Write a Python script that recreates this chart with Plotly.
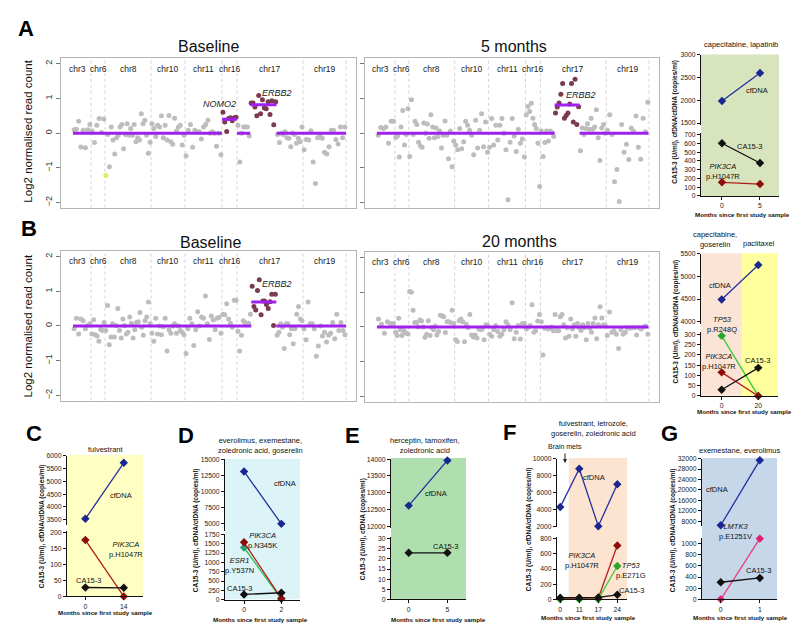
import plotly.graph_objects as go

# ====================== DATA ======================
CHROMS = ["chr3", "chr6", "chr8", "chr10", "chr11", "chr16", "chr17", "chr19"]
CHR_EDGES = [0, 18, 32, 78, 112, 149, 164, 230, 273]   # genome bin index

A_BASE = {
    "chr3": [0.10, 0.11, 0.34, -0.40, 0.08, -0.42, 0.10, 0.25],
    "chr6": [0.06, -0.27, 0.23, 0.42, 0.02, 0.41],
    "chr8": [-1.22, -0.04, -0.97, 0.18, -0.20, -0.60, -0.13, -0.06, 0.18, 0.25, -0.45, -0.04, 0.27,
             -0.06, 0.13, -0.06, 0.25, -0.25, -0.13, -0.20, 0.56, 0.27, 0.37, -0.06, -0.58, -0.26],
    "chr10": [0.27, 0.13, -0.10, 0.23, 0.18, 0.50, -0.13, 0.23, -0.20, 0.51, -0.25, -0.32, 0.43, 0.06,
              0.18, 0.23, -0.34, -0.06],
    "chr11": [-0.65, 0.08, 0.25, -0.41, 0.08, 0.04, 0.04, -0.17, 0.18, 0.25, 0.37, 0.00, 0.04, 0.00,
              -0.38, 0.00, -0.62],
    "chr16": [0.60, 0.32, 0.05, 0.42, 0.44, 0.36, 0.44, 0.46],
    "chr17": [0.23, -0.83, 0.00, 0.18, 0.18, 0.18, -0.08,
              0.87, 0.87, 0.75, 0.50, 1.08, 0.56, 0.96, 0.72, 0.70, 0.90, 0.54, 0.93, 0.24, 0.90,
              -0.04, -0.27, 0.00, -0.04, 0.04, -0.13, -0.15, -0.39, 0.00, -0.04, -0.29, -0.15, -0.25, 0.18],
    "chr19": [-0.48, -0.18, -0.20, 0.07, -0.83, -1.45, -0.13, -0.08, -0.15, -0.55, -0.60, -0.39, 0.08,
              0.08, -0.18, -0.31, 0.18, -0.13, 0.18],
}
A_BASE_SEGS = [(0, 149, 0.0), (149, 164, 0.40), (164, 177.2, 0.0), (177.2, 203.6, 0.82), (203.6, 273, 0.0)]
A_BASE_LOSS = ("chr8", 0)

A_5MO = {
    "chr3": [-0.06, 0.16, 0.13, 0.18, -0.29, 0.34, 0.34],
    "chr6": [-0.12, -0.08, -0.69, 0.18, 0.65, -0.34, -0.04, 0.70],
    "chr8": [-0.67, 0.96, -0.04, 0.34, 0.25, -0.26, -0.36, -0.41, 0.29, 0.00, 0.26, -0.15, 0.53, 0.18,
             -0.13, 0.15, -0.10, 0.06, -0.43, -0.06, 0.35, -0.06, -0.74, 0.06, -0.97, -0.23],
    "chr10": [-0.34, -0.48, 0.13, -0.45, -0.25, 0.34, 0.23, 0.08, -0.06, -0.62, 0.37, -0.43, 0.08, 0.56,
              -0.39, 0.32, -0.55],
    "chr11": [-0.41, 0.42, -0.34, 0.23, -0.20, 0.23, 0.42, 0.00, -0.48, -1.92, -0.26, 0.42, -0.08, -0.53,
              0.11, -0.29, -0.17, -0.69],
    "chr16": [0.53, 0.77, 0.62, 0.86, 0.43, 0.25, 0.13, -0.29, -1.54],
    "chr17": [0.06, -0.67, -0.27, 0.06, -0.23, 0.06, 0.02, -0.10,
              0.58, 0.75, 0.87, 1.12, 1.43, 0.43, 0.51, 0.58, 0.84, 1.43, 0.32, 1.55, 0.25, 0.76,
              -0.51, 0.15, -0.04, 0.13, 0.27, 0.11, 0.43, 0.11, 0.18, 0.67, -0.13, -0.79, 0.15, 0.25, 0.00],
    "chr19": [0.08, 0.53, -0.04, -1.40, -1.05, -1.97, 0.25, -0.55, -0.32, -0.76, 0.15, 0.06, 0.49, -0.41,
              -0.75, 0.43, 0.04, 0.89],
}
A_5MO_SEGS = [(0, 178.3, 0.0), (178.3, 203.3, 0.81), (203.3, 272.5, 0.0)]

B_BASE = {
    "chr3": [-0.08, 0.22, -0.23, 0.20, 0.15, -0.08, 0.01, 0.06],
    "chr6": [-0.23, 0.18, -0.25, -0.29, -0.44, -0.10, -0.13, 0.10],
    "chr8": [-0.13, 0.59, -0.54, -0.32, 0.06, -0.32, 0.01, 0.50, -0.13, -0.35, 0.20, 0.01, -0.23, -0.18,
             0.26, 0.08, -0.35, -0.11, 0.10, 0.12, 0.39, -0.04, -0.27, 0.15, 0.26, 0.69, 0.06],
    "chr10": [-0.21, -0.44, 0.22, -0.23, 0.00, -0.25, -0.02, 0.22, -0.72, -0.11, -0.21, 0.00, 0.06, -0.21,
              0.00, -0.13, -0.18, -0.25],
    "chr11": [-0.79, -0.08, 0.22, 0.06, -0.56, -0.11, 0.41, 0.00, 0.26, 0.22, 0.86, 0.06, -0.39, 0.29,
              0.17, -0.11, 0.22, 0.25, -0.21],
    "chr16": [0.34, 0.32, 0.64, 0.20, 0.08, -0.04, 0.74, 0.74],
    "chr17": [-0.15, -0.72, -0.27, 0.15, 0.10, 0.06, 0.08, 0.34,
              1.14, 0.56, 0.46, 1.02, 1.33, 0.32, 0.72, 0.72, 0.62, 0.50, 0.70, 0.91, 0.01, 0.91,
              -0.27, -0.18, 0.06, -0.04, -0.65, 0.06, 0.06, -0.25, -0.08, -0.51, -0.08, 0.34, 0.56, 0.20, 0.15],
    "chr19": [-0.08, -0.40, 0.69, 0.06, 0.06, -0.08, -0.87, -0.58, 0.00, -0.29, -0.18, -0.46, -0.27, -0.21,
              0.10, -0.37, 0.34, -0.13, 0.10, -0.13, -0.25],
}
B_BASE_SEGS = [(0, 178.3, 0.0), (178.3, 203.3, 0.69), (203.3, 273, 0.0)]

B_20MO = {
    "chr3": [0.23, 0.08, -0.18, 0.15, 0.10, 0.10],
    "chr6": [-0.15, -0.25, 0.25, -0.08, -0.25, -0.10, -0.15, -0.18, -0.20],
    "chr8": [1.02, 1.00, 0.48, 0.13, 0.13, 0.00, 0.20, 0.17, 0.00, -0.30, -0.21, 0.18, -0.25, -0.02,
             -0.08, 0.03, -0.23, -0.13, 0.34, 0.32, 0.29, -0.16, 0.15, 0.15, 0.13, 0.48, 0.10],
    "chr10": [-0.37, -0.42, 0.18, 0.23, 0.15, -0.43, 0.08, -0.02, 0.36, -0.23, -0.29, -0.23, -0.32, -0.06,
              -0.08, -0.06, -0.37, 0.06, 0.04],
    "chr11": [-0.21, -0.27, -0.08, 0.04, -0.13, -0.27, -0.21, -0.08, 0.15, 0.06, -0.08, 0.70, -0.34, -0.15,
              0.04, -0.35, 0.10, 0.10],
    "chr16": [-0.06, -0.01, 0.04, 0.64, -0.15, -0.11, 0.17, 0.36],
    "chr17": [0.15, -0.81, -0.04, -0.02, -0.06, -0.04, 0.00, -0.11, 0.36, -0.11, -0.11, 0.29, 0.36, 0.06,
              -0.32, -0.02, -0.27, 0.23, -0.06, 0.06, -0.27, 0.10, -0.02, -0.10, 0.06, -0.02, -0.37, 0.10,
              -0.04, -0.15, 0.10, 0.26, -0.34, 0.06, 0.58, 0.26, 0.06, 0.04],
    "chr19": [-0.25, 0.43, -0.15, -0.11, -0.21, -0.62, -0.08, -0.21, -0.15, -0.02, -0.04, -0.02, -0.02,
              -0.23, -0.02, -0.06, 0.00, 0.03, -0.21],
}
B_20MO_SEGS = [(0, 272.5, 0.0)]

LOG2_TICKS = [-2, -1, 0, 1, 2]
LOG2_TICKTEXT = ["\u22122", "\u22121", "0", "1", "2"]

# longitudinal marker panels
A_MONTHS = [0, 5]
A_CFDNA = [1985, 2600]
A_CA153 = [602, 376]
A_PIK3CA = [155, 135]
A_TOP_TICKS = [1500, 2000, 2500, 3000]
A_BOT_TICKS = [0, 100, 200, 300, 400, 500, 600, 700]

B_MONTHS = [0, 20]
B_CFDNA = [4490, 5250]
B_TP53 = [293, 0]
B_PIK3CA = [115, 0]
B_CA153 = [30, 137]
B_SWITCH = 11   # treatment change (months)
B_TOP_TICKS = [4000, 4500, 5000, 5500]
B_BOT_TICKS = [0, 50, 100, 150, 200, 250, 300]

C_MONTHS = [0, 14]
C_CFDNA = [3530, 5730]
C_PIK3CA = [177, 0]
C_CA153 = [28, 27]
C_TOP_TICKS = [3500, 4000, 4500, 5000, 5500, 6000]
C_BOT_TICKS = [0, 50, 100, 150, 200]

D_MONTHS = [0, 2]
D_CFDNA = [13100, 4950]
D_PIK3CA = [1540, 30]
D_ESR1 = [1400, 15]
D_CA153 = [140, 185]
D_TOP_TICKS = [5000, 7500, 10000, 12500, 15000]
D_BOT_TICKS = [0, 250, 500, 750, 1000, 1250, 1500, 1750]

E_MONTHS = [0, 5]
E_CFDNA = [12615, 13965]
E_CA153 = [23, 23]
E_TOP_TICKS = [12000, 12500, 13000, 13500, 14000]
E_BOT_TICKS = [0, 5, 10, 15, 20, 25, 30]

F_MONTHS = ["0", "11", "17", "24"]
F_CFDNA = [4260, 8800, 2000, 6960]
F_PIK3CA = [8, 8, 15, 710]
F_TP53 = [0, 0, 0, 440]
F_CA153 = [22, 22, 25, 60]
F_TOP_TICKS = [2000, 4000, 6000, 8000, 10000]
F_BOT_TICKS = [0, 200, 400, 600, 800]

G_MONTHS = [0, 1]
G_CFDNA = [6450, 31400]
G_LMTK3 = [0, 1090]
G_CA153 = [307, 385]
G_TOP_TICKS = [8000, 12000, 16000, 20000, 24000, 28000, 32000]
G_BOT_TICKS = [0, 200, 400, 600, 800, 1000]

# ====================== STYLE / HELPERS ======================
W, H = 800, 626
FONT = "Liberation Sans, Arial, Helvetica, sans-serif"
GREY = "#bdbdbd"
MAROON = "#7a3b4c"
LOSS_COL = "#cdf55c"
PURPLE = "#a020f0"
CF = ("#23309f", "#1b2790")
CA = ("#111111", "#111111")
PIK = ("#b01c1c", "#8e0b0b")
TP = ("#37cc37", "#2aa82a")
ESR = ("#2ec24a", "#2a9d7e")
LMT = ("#ea3c82", "#e0206e")
TXT = "#111111"


def px(x):
    return x / W


def py(y):
    return 1 - y / H


fig = go.Figure()
annotations = []
shapes = []
layout_axes = {}


def ann(text, x, y, size=7.5, bold=False, angle=0, color=TXT, xanchor="center", **kw):
    if bold:
        text = "<b>" + text + "</b>"
    d = dict(text=text, x=px(x), y=py(y), xref="paper", yref="paper", showarrow=False,
             font=dict(family=FONT, size=size, color=color), textangle=angle,
             xanchor=xanchor, yanchor="middle")
    d.update(kw)
    annotations.append(d)


def seg_color(x, segs):
    for s0, s1, v in segs:
        if s0 <= x <= s1 and v > 0.2:
            return MAROON
    return GREY


def cn_panel(i, values, segs, box, show_labels, loss=None, genes=()):
    x0, x1, y0, y1 = box
    xs, ys, cols = [], [], []
    for ci, chrom in enumerate(CHROMS):
        vals = values[chrom]
        a, b = CHR_EDGES[ci], CHR_EDGES[ci + 1]
        step = (b - a) / len(vals)
        for j, v in enumerate(vals):
            x = a + (j + 0.5) * step
            xs.append(x)
            ys.append(v)
            c = seg_color(x, segs)
            if loss is not None and loss == (chrom, j):
                c = LOSS_COL
            cols.append(c)
    xa, ya = "x%d" % i, "y%d" % i
    bx, by = [], []
    for e in CHR_EDGES[1:]:
        bx += [e, e, None]
        by += [-2.15, 2.15, None]
    fig.add_trace(go.Scatter(x=bx, y=by, mode="lines", xaxis=xa, yaxis=ya, hoverinfo="skip",
                             line=dict(color="#d2d2d2", width=1, dash="dot"), showlegend=False))
    fig.add_trace(go.Scatter(x=xs, y=ys, mode="markers", xaxis=xa, yaxis=ya, showlegend=False,
                             marker=dict(size=5, color=cols, line=dict(width=0))))
    sx, sy = [], []
    for s0, s1, v in segs:
        sx += [s0, s1, None]
        sy += [v, v, None]
    fig.add_trace(go.Scatter(x=sx, y=sy, mode="lines", xaxis=xa, yaxis=ya, showlegend=False,
                             line=dict(color=PURPLE, width=3)))
    layout_axes["xaxis%d" % i] = dict(domain=[px(x0), px(x1)], anchor=ya, range=[-12, 283],
                                      showline=True, mirror=True, linecolor="#b5b5b5", linewidth=1,
                                      showticklabels=False, ticks="", showgrid=False, zeroline=False)
    layout_axes["yaxis%d" % i] = dict(domain=[py(y1), py(y0)], anchor=xa, range=[-2.15, 2.15],
                                      tickvals=LOG2_TICKS, ticktext=LOG2_TICKTEXT, tickangle=-90,
                                      ticks="outside", ticklen=4, tickcolor="#777",
                                      showticklabels=show_labels,
                                      tickfont=dict(family=FONT, size=9, color="#333"),
                                      showline=True, mirror=True, linecolor="#b5b5b5", linewidth=1,
                                      showgrid=False, zeroline=False)
    for ci, chrom in enumerate(CHROMS):
        annotations.append(dict(text=chrom, x=(CHR_EDGES[ci] + CHR_EDGES[ci + 1]) / 2, y=1.86,
                                xref=xa, yref=ya, showarrow=False, xshift=-5 if ci == 0 else 0,
                                font=dict(family=FONT, size=8.5, color="#222")))
    for g, gx, gy in genes:
        annotations.append(dict(text="<i>%s</i>" % g, x=gx, y=gy, xref=xa, yref=ya, showarrow=False,
                                font=dict(family=FONT, size=9, color="#222")))


# ---- copy-number panels ----
cn_panel(1, A_BASE, A_BASE_SEGS, (53, 348, 47, 198), True, loss=A_BASE_LOSS,
         genes=[("NOMO2", 146.7, 0.84), ("ERBB2", 204.3, 1.17)])
cn_panel(2, A_5MO, A_5MO_SEGS, (357, 651, 47, 198), False, genes=[("ERBB2", 204.3, 1.09)])
cn_panel(3, B_BASE, B_BASE_SEGS, (53, 348, 242, 393), True, genes=[("ERBB2", 204.3, 1.22)])
cn_panel(4, B_20MO, B_20MO_SEGS, (357, 651, 243, 394), False)

ann("Baseline", 200, 35, size=16)
ann("5 months", 506, 35, size=16)
ann("Baseline", 203, 233, size=16)
ann("20 months", 511, 232, size=16)
ann("Log2 normalised read count", 20, 121, size=11.5, angle=-90)
ann("Log2 normalised read count", 20, 318, size=11.5, angle=-90)


# ---- marker panels ----
def small_panel(k, months, left, right, top, bot, xr, tr, br, tt, bt, bgs, bgy, series,
                cat=False):
    xi, yt, yb = 4 + k, 3 + 2 * k, 4 + 2 * k
    xa = "x%d" % xi
    for seg, vals, col in series:
        ya = "y%d" % (yt if seg == "top" else yb)
        fig.add_trace(go.Scatter(x=months, y=vals, mode="lines+markers", xaxis=xa, yaxis=ya,
                                 cliponaxis=False, showlegend=False,
                                 line=dict(color=col[0], width=1.3),
                                 marker=dict(symbol="diamond", size=6.5, color=col[1],
                                             line=dict(width=0))))
    axcommon = dict(showline=True, linecolor="#111", linewidth=1, ticks="outside", ticklen=3,
                    tickcolor="#111", tickfont=dict(family=FONT, size=6.8, color="#1a1a1a"),
                    showgrid=False, zeroline=False)
    xd = dict(domain=[px(left), px(right)], anchor="y%d" % yb, range=xr, tickvals=months, **axcommon)
    if cat:
        xd.update(type="category", categoryorder="array", categoryarray=months)
    layout_axes["xaxis%d" % xi] = xd
    layout_axes["yaxis%d" % yt] = dict(domain=[py(top[1]), py(top[0])], anchor=xa, range=tr,
                                       tickvals=tt, tickformat="d", **axcommon)
    layout_axes["yaxis%d" % yb] = dict(domain=[py(bot[1]), py(bot[0])], anchor=xa, range=br,
                                       tickvals=bt, tickformat="d", **axcommon)
    for bx0, bx1, colr in bgs:
        shapes.append(dict(type="rect", xref=xa, yref="paper", x0=bx0, x1=bx1,
                           y0=py(bgy[1]), y1=py(bgy[0]), fillcolor=colr, line=dict(width=0),
                           layer="below"))


YT = "CA15-3 (U/ml), cfDNA/ctDNA (copies/ml)"
XT = "Months since first study sample"
XS, YS = 6.2, 6.5

# A right
small_panel(1, A_MONTHS, 693, 771, (43.3, 114.6), (122.7, 186), [-2.76, 7.5], [1450, 3000], [0, 715],
            A_TOP_TICKS, A_BOT_TICKS, [(-2.76, 7.5, "#d8e4bd")], (43, 186),
            [("top", A_CFDNA, CF), ("bot", A_CA153, CA), ("bot", A_PIK3CA, PIK)])
ann("capecitabine, lapatinib", 733, 33)
ann(XT, 734, 204.5, size=XS, bold=True)
ann(YT, 667, 111, size=YS, bold=True, angle=-90)
ann("cfDNA", 749, 79)
ann("CA15-3", 741, 136)
ann("<i>PIK3CA</i><br>p.H1047R", 715, 161.5)

# B right
small_panel(2, B_MONTHS, 693, 770, (244.3, 315.6), (324, 388.3), [-11.3, 30.8], [3950, 5500], [0, 310],
            B_TOP_TICKS, B_BOT_TICKS, [(-11.3, B_SWITCH, "#fbe4d5"), (B_SWITCH, 30.8, "#ffff9e")],
            (244, 388),
            [("top", B_CFDNA, CF), ("bot", B_TP53, TP), ("bot", B_PIK3CA, PIK), ("bot", B_CA153, CA)])
ann("capecitabine,<br>goserelin", 707, 230.5)
ann("paclitaxel", 751, 234)
ann(XT, 736, 404.5, size=XS, bold=True)
ann(YT, 667, 313, size=YS, bold=True, angle=-90)
ann("cfDNA", 712, 277)
ann("<i>TP53</i><br>p.R248Q", 713.7, 315.7)
ann("<i>PIK3CA</i><br>p.H1047R", 711.3, 353.4)
ann("CA15-3", 749.3, 352.7)

# C
small_panel(3, C_MONTHS, 59, 135, (449, 518.5), (525, 591), [-6.7, 21], [3300, 6000], [0, 205],
            C_TOP_TICKS, C_BOT_TICKS, [(-6.7, 21, "#ffffc4")], (448, 591),
            [("top", C_CFDNA, CF), ("bot", C_PIK3CA, PIK), ("bot", C_CA153, CA)])
ann("fulvestrant", 98, 442)
ann(XT, 97, 607.5, size=XS, bold=True)
ann(YT, 34, 520, size=YS, bold=True, angle=-90)
ann("cfDNA", 113, 489)
ann("<i>PIK3CA</i><br>p.H1047R", 118, 543.5)
ann("CA15-3", 80, 575)

# D
small_panel(4, D_MONTHS, 217, 292, (452.3, 525), (528, 594.3), [-1.02, 3.0], [3820, 15000], [0, 1760],
            D_TOP_TICKS, D_BOT_TICKS, [(-1.02, 3.0, "#dcf3f8")], (452, 594),
            [("top", D_CFDNA, CF), ("bot", D_ESR1, ESR), ("bot", D_PIK3CA, PIK), ("bot", D_CA153, CA)])
ann("everolimus, exemestane,<br>zoledronic acid, goserelin", 253, 438)
ann(XT, 252, 614, size=XS, bold=True)
ann(YT, 188, 524, size=YS, bold=True, angle=-90)
ann("cfDNA", 277, 477)
ann("<i>PIK3CA</i><br>p.N345K", 254, 534)
ann("<i>ESR1</i><br>p.Y537N", 232, 559.5)
ann("CA15-3", 232, 583)

# E
small_panel(5, E_MONTHS, 383, 458, (452.3, 521.5), (531, 594), [-2.29, 7.41], [11956, 14000], [0, 30.8],
            E_TOP_TICKS, E_BOT_TICKS, [(-2.29, 7.41, "#afdfae")], (451, 594),
            [("top", E_CFDNA, CF), ("bot", E_CA153, CA)])
ann("herceptin, tamoxifen,<br>zoledronic acid", 417, 438)
ann(XT, 430, 614, size=XS, bold=True)
ann("CA15-3 (U/ml), cfDNA (copies/ml)", 355, 523, size=YS, bold=True, angle=-90)
ann("cfDNA", 428, 487)
ann("CA15-3", 437, 541)

# F
small_panel(6, F_MONTHS, 549, 619, (451.7, 521), (531, 594), [-0.17, 3.51], [1880, 10000], [0, 822],
            F_TOP_TICKS, F_BOT_TICKS, [(0.45, 3.51, "#fde4d0")], (451, 594),
            [("top", F_CFDNA, CF), ("bot", F_PIK3CA, PIK), ("bot", F_TP53, TP), ("bot", F_CA153, CA)],
            cat=True)
ann("fulvestrant, letrozole,<br>goserelin, zoledronic acid", 585, 421.5)
ann("Brain mets", 557, 439, size=7)
annotations.append(dict(text="", x=px(557), y=py(456), xref="paper", yref="paper", showarrow=True,
                        ax=0, ay=-11, arrowhead=2, arrowsize=0.8, arrowwidth=1, arrowcolor="#222"))
ann(XT, 580, 612, size=XS, bold=True)
ann(YT, 521, 523, size=YS, bold=True, angle=-90)
ann("cfDNA", 586, 471)
ann("<i>PIK3CA</i><br>p.H1047R", 574, 555)
ann("<i>TP53</i><br>p.E271G", 623, 564.5)
ann("CA15-3", 623, 585)

# G
small_panel(7, G_MONTHS, 694, 769, (451.7, 520), (532, 594), [-0.48, 1.44], [6100, 32000], [0, 1100],
            G_TOP_TICKS, G_BOT_TICKS, [(-0.48, 1.44, "#c6d7ea")], (451, 594),
            [("top", G_CFDNA, CF), ("bot", G_LMTK3, LMT), ("bot", G_CA153, CA)])
ann("exemestane, everolimus", 732, 443)
ann(XT, 732, 612, size=XS, bold=True)
ann(YT, 665, 524, size=YS, bold=True, angle=-90)
ann("cfDNA", 709, 483)
ann("<i>LMTK3</i><br>p.E1251V", 727, 525)
ann("CA15-3", 750, 565)

# panel letters
for letter, lx, ly in [("A", 18, 17), ("B", 21, 219), ("C", 26, 426), ("D", 178, 428),
                       ("E", 344, 428), ("F", 501, 425), ("G", 661, 426)]:
    ann(letter, lx, ly, size=22, bold=True, color="#000")

fig.update_layout(width=W, height=H, margin=dict(l=0, r=0, t=0, b=0),
                  paper_bgcolor="white", plot_bgcolor="rgba(0,0,0,0)",
                  font=dict(family=FONT), showlegend=False,
                  annotations=annotations, shapes=shapes, **layout_axes)

fig.write_html("out.html")
